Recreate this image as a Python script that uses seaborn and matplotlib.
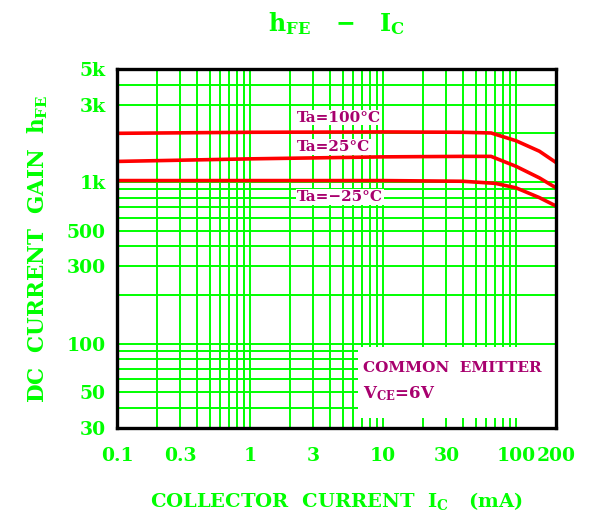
import numpy as np
import pandas as pd
import matplotlib
matplotlib.use("Agg")
import matplotlib.pyplot as plt
import seaborn as sns

# hFE vs Ic curves
ic_100 = [0.1, 1, 10, 40, 65, 100, 150, 200]
hfe_100 = [2000, 2030, 2040, 2030, 2010, 1800, 1550, 1320]
ic_25 = [0.1, 1, 10, 40, 65, 100, 150, 200]
hfe_25 = [1340, 1390, 1430, 1440, 1440, 1250, 1060, 920]
ic_m25 = [0.1, 1, 10, 40, 70, 100, 150, 200]
hfe_m25 = [1020, 1020, 1020, 1010, 980, 920, 800, 710]

x_ticks = [0.1, 0.3, 1, 3, 10, 30, 100, 200]
x_labels = ["0.1", "0.3", "1", "3", "10", "30", "100", "200"]
y_ticks = [30, 50, 100, 300, 500, 1000, 3000, 5000]
y_labels = ["30", "50", "100", "300", "500", "1k", "3k", "5k"]

GREEN = "#00ff00"
RED = "#ff0000"
MAGENTA = "#a8006e"

df = pd.concat([
    pd.DataFrame({"Ic": ic_100, "hFE": hfe_100, "Ta": "100"}),
    pd.DataFrame({"Ic": ic_25, "hFE": hfe_25, "Ta": "25"}),
    pd.DataFrame({"Ic": ic_m25, "hFE": hfe_m25, "Ta": "-25"}),
])

sns.set_style("white")
plt.rcParams["font.family"] = ["DejaVu Serif"]
plt.rcParams["font.weight"] = "bold"
plt.rcParams["mathtext.fontset"] = "custom"
plt.rcParams["mathtext.rm"] = "DejaVu Serif:bold"
plt.rcParams["mathtext.it"] = "DejaVu Serif:bold"
plt.rcParams["mathtext.bf"] = "DejaVu Serif:bold"

fig = plt.figure(figsize=(5.94, 5.21), dpi=100)
ax = fig.add_axes([0.197, 0.1785, 0.739, 0.689])

ax.set_xscale("log")
ax.set_yscale("log")
ax.set_xlim(0.1, 200)
ax.set_ylim(30, 5000)

ax.grid(True, which="both", color=GREEN, linewidth=1.4)
ax.set_axisbelow(True)

sns.lineplot(data=df, x="Ic", y="hFE", units="Ta", estimator=None,
             color=RED, linewidth=2.6, ax=ax, legend=False)

ax.set_xticks(x_ticks)
ax.set_xticklabels(x_labels)
ax.set_yticks(y_ticks)
ax.set_yticklabels(y_labels)
ax.minorticks_on()
ax.tick_params(axis="both", which="both", length=0, labelcolor=GREEN,
               labelsize=13.5)
ax.tick_params(axis="x", pad=14)
ax.tick_params(axis="y", pad=8)
ax.xaxis.set_minor_formatter(matplotlib.ticker.NullFormatter())
ax.yaxis.set_minor_formatter(matplotlib.ticker.NullFormatter())
for lab in ax.get_xticklabels() + ax.get_yticklabels():
    lab.set_fontweight("bold")

for s in ax.spines.values():
    s.set_visible(True)
    s.set_color("black")
    s.set_linewidth(2.4)
    s.set_zorder(5)

tbox = dict(facecolor="white", edgecolor="none", pad=0.5)
ax.text(2.25, 2500, "Ta=100°C", color=MAGENTA, fontsize=11, fontweight="bold",
        va="center", ha="left", bbox=tbox)
ax.text(2.25, 1650, "Ta=25°C", color=MAGENTA, fontsize=11, fontweight="bold",
        va="center", ha="left", bbox=tbox)
ax.text(2.25, 810, "Ta=−25°C", color=MAGENTA, fontsize=11, fontweight="bold",
        va="center", ha="left", bbox=tbox)

# white box with measuring condition
ax.add_patch(plt.Rectangle((0.549, 0.028), 0.45, 0.198, transform=ax.transAxes,
                           facecolor="white", edgecolor="none", zorder=3))
ax.text(0.56, 0.167, "COMMON  EMITTER", transform=ax.transAxes, color=MAGENTA,
        fontsize=11, fontweight="bold", va="center", zorder=4)
ax.text(0.56, 0.095, r"V$_{\rm CE}$=6V", transform=ax.transAxes, color=MAGENTA,
        fontsize=12, fontweight="bold", va="center", zorder=4)

ax.set_xlabel(r"COLLECTOR  CURRENT  I$_{\rm C}$   (mA)", color=GREEN,
              fontsize=14, fontweight="bold", labelpad=18)
ax.set_ylabel(r"DC  CURRENT  GAIN  h$_{\rm FE}$", color=GREEN,
              fontsize=15.5, fontweight="bold", labelpad=12)
fig.text(0.567, 0.955, r"h$_{\rm FE}$   −   I$_{\rm C}$", color=GREEN,
         fontsize=17, fontweight="bold", ha="center", va="center")

fig.savefig("out.png", dpi=100, facecolor="white")
